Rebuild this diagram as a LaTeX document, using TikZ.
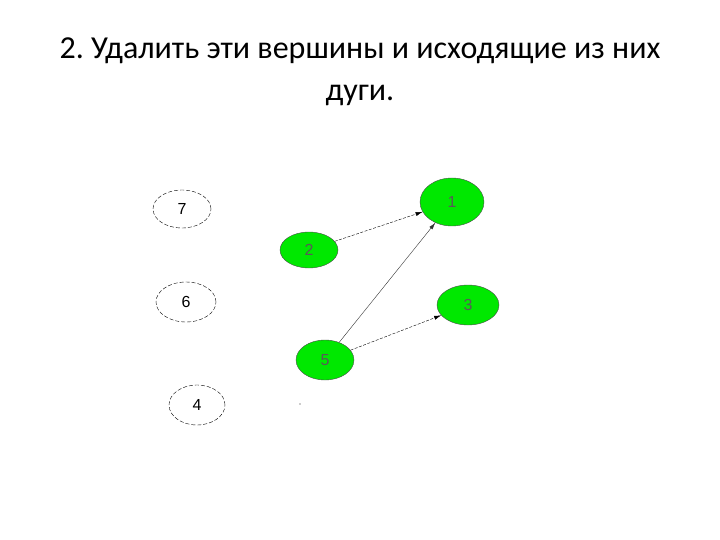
\documentclass[tikz,border=0pt]{standalone}
\usepackage{fontspec}
\setmainfont{Carlito}
\newfontfamily\lblfont{Liberation Sans}
\usetikzlibrary{arrows.meta,shapes.geometric}

\begin{document}
\begin{tikzpicture}[x=1pt,y=-1pt,
    vert/.style={ellipse,draw=black,thin,dash pattern=on 4pt off 2pt,minimum width=58pt,
      minimum height=38pt,inner sep=0pt,font=\lblfont\fontsize{16}{16}\selectfont},
    kept/.style={vert,solid,fill=green!85!black!60!green,text=black!65,draw=black!70},
    arc/.style={-{Latex[length=7pt,width=4pt]},thin,dash pattern=on 3pt off 1.5pt}]
  \useasboundingbox (0,0) rectangle (720,540);
  \node[font=\fontsize{32}{42}\selectfont,align=center] (title) at (360,72)
    {2.\ Удалить эти вершины и исходящие из них\\дуги.};
  % removed vertices
  \node[kept,minimum width=64pt,minimum height=48pt] (v1) at (452,202) {1};
  \node[kept,minimum height=36pt] (v2) at (309,250) {2};
  \node[kept,minimum width=62pt,minimum height=40pt] (v3) at (468,305) {3};
  \node[kept,minimum height=40pt] (v5) at (325,360) {5};
  % other vertices
  \node[vert] (v7) at (182,209) {7};
  \node[vert,minimum width=60pt,minimum height=40pt] (v6) at (186,302) {6};
  \node[vert,minimum width=56pt,minimum height=40pt] (v4) at (197,405) {4};
  \fill[black!40] (300,404) circle (0.8pt);
  % arcs
  \draw[arc] (v2) -- (v1);
  \draw[arc,solid,black!80] (v5) -- (v1);
  \draw[arc] (v5) -- (v3);
\end{tikzpicture}
\end{document}
